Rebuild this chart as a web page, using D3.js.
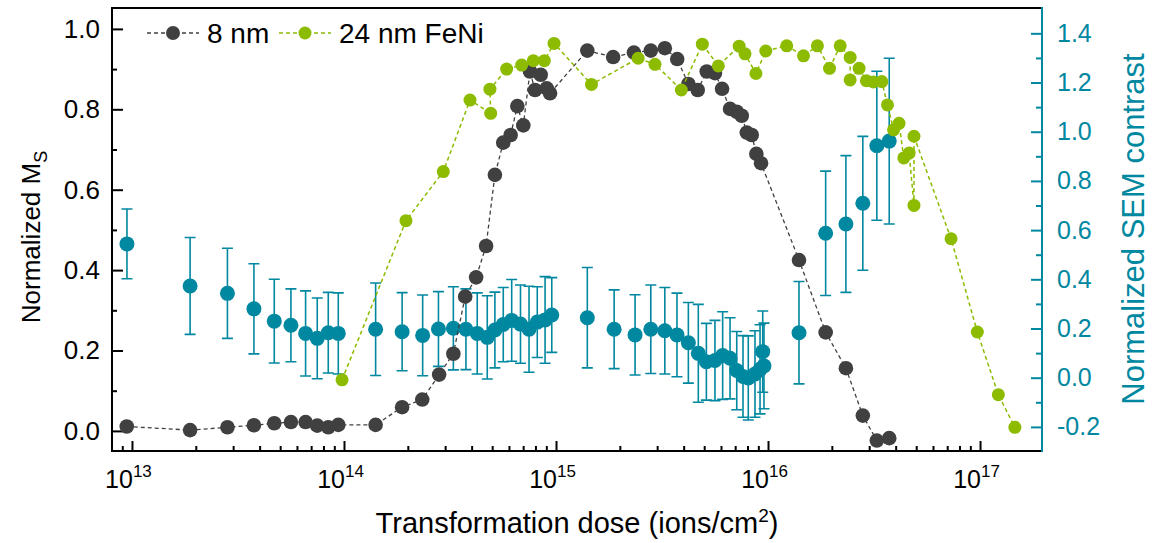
<!DOCTYPE html>
<html>
<head>
<meta charset="utf-8">
<script src="https://cdn.jsdelivr.net/npm/d3@7"></script>
<style>
    body { margin: 0; background: #fff; }
    svg { font-family: "Liberation Sans", Arial, sans-serif; }
</style>
</head>
<body>
<svg id="chart" width="1154" height="543"></svg>
<script>
// 8 nm film, normalized Ms
const dose8 = [9.45e12, 1.88e13, 2.82e13, 3.76e13, 4.69e13, 5.62e13, 6.59e13, 7.48e13, 8.43e13, 9.4e13,
    1.41e14, 1.88e14, 2.34e14, 2.81e14, 3.28e14, 3.73e14, 4.2e14, 4.68e14, 5.15e14, 5.64e14,
    6.11e14, 6.57e14, 7.01e14, 7.54e14, 7.96e14, 8.47e14, 9.04e14, 9.37e14, 1.405e15, 1.86e15,
    2.33e15, 2.8e15, 3.26e15, 3.73e15, 4.21e15, 4.66e15, 5.14e15, 5.62e15, 6.07e15, 6.62e15,
    7.12e15, 7.52e15, 7.94e15, 8.38e15, 8.81e15, 9.27e15, 1.4e16, 1.87e16, 2.33e16, 2.8e16,
    3.26e16, 3.73e16];
const ms8 = [0.011, 0.002, 0.009, 0.014, 0.019, 0.022, 0.022, 0.013, 0.009, 0.015,
    0.015, 0.059, 0.078, 0.140, 0.192, 0.334, 0.382, 0.460, 0.637, 0.717,
    0.736, 0.808, 0.760, 0.894, 0.848, 0.886, 0.852, 0.840, 0.946, 0.930,
    0.941, 0.946, 0.952, 0.925, 0.863, 0.848, 0.894, 0.890, 0.851, 0.801,
    0.794, 0.784, 0.742, 0.736, 0.689, 0.666, 0.425, 0.245, 0.156, 0.038,
    -0.024, -0.018];

// 24 nm FeNi, normalized Ms
const dose24 = [9.79e13, 1.96e14, 2.94e14, 3.93e14, 4.92e14, 4.88e14, 5.85e14, 6.89e14, 7.82e14, 8.81e14,
    9.79e14, 1.47e15, 2.44e15, 2.93e15, 3.9e15, 4.9e15, 5.83e15, 7.31e15, 7.79e15, 8.77e15,
    9.76e15, 1.225e16, 1.47e16, 1.71e16, 1.95e16, 2.19e16, 2.44e16, 2.44e16, 2.69e16, 2.91e16,
    3.14e16, 3.44e16, 3.66e16, 3.91e16, 4.15e16, 4.37e16, 4.63e16, 4.88e16, 4.88e16, 7.3e16,
    9.71e16, 1.22e17, 1.46e17];
const ms24 = [0.127, 0.523, 0.645, 0.823, 0.790, 0.850, 0.900, 0.910, 0.921, 0.921,
    0.964, 0.862, 0.927, 0.912, 0.848, 0.962, 0.908, 0.957, 0.938, 0.889,
    0.945, 0.958, 0.933, 0.958, 0.902, 0.958, 0.929, 0.873, 0.902, 0.871,
    0.868, 0.869, 0.811, 0.749, 0.765, 0.679, 0.691, 0.561, 0.733, 0.478,
    0.246, 0.090, 0.009];

// SEM contrast (right axis) with error bars
const doseSem = [9.47e12, 1.88e13, 2.82e13, 3.76e13, 4.69e13, 5.62e13, 6.59e13, 7.48e13, 8.43e13, 9.4e13,
    1.41e14, 1.88e14, 2.35e14, 2.79e14, 3.28e14, 3.76e14, 4.25e14, 4.74e14, 5.15e14, 5.64e14,
    6.18e14, 6.8e14, 7.46e14, 8.16e14, 8.88e14, 9.55e14, 1.405e15, 1.88e15, 2.36e15, 2.8e15,
    3.26e15, 3.72e15, 4.21e15, 4.69e15, 5.12e15, 5.62e15, 6.11e15, 6.62e15, 7.12e15, 7.62e15,
    8.07e15, 8.68e15, 9.17e15, 9.44e15, 9.57e15, 1.4e16, 1.87e16, 2.33e16, 2.8e16, 3.26e16,
    3.73e16];
const sem = [0.544, 0.373, 0.343, 0.280, 0.230, 0.213, 0.180, 0.160, 0.183, 0.180,
    0.197, 0.187, 0.172, 0.198, 0.201, 0.197, 0.180, 0.164, 0.194, 0.216,
    0.233, 0.218, 0.197, 0.226, 0.235, 0.255, 0.244, 0.197, 0.174, 0.197,
    0.191, 0.174, 0.142, 0.099, 0.065, 0.070, 0.090, 0.079, 0.029, 0.005,
    -0.001, 0.015, 0.034, 0.106, 0.048, 0.183, 0.587, 0.625, 0.709, 0.943,
    0.962];
const semErr = [0.142, 0.197, 0.183, 0.183, 0.170, 0.148, 0.173, 0.164, 0.164, 0.165,
    0.188, 0.159, 0.164, 0.152, 0.169, 0.164, 0.165, 0.169, 0.154, 0.151,
    0.166, 0.159, 0.175, 0.144, 0.176, 0.152, 0.204, 0.160, 0.163, 0.180,
    0.176, 0.170, 0.164, 0.199, 0.156, 0.163, 0.178, 0.165, 0.159, 0.166,
    0.171, 0.176, 0.181, 0.165, 0.174, 0.208, 0.253, 0.278, 0.272, 0.303,
    0.337];

const xMajor = [1e13, 1e14, 1e15, 1e16, 1e17];
const xExp = ["13", "14", "15", "16", "17"];
const leftTicks = [0.0, 0.2, 0.4, 0.6, 0.8, 1.0];
const leftMinor = [0.1, 0.3, 0.5, 0.7, 0.9];
const rightTicks = [-0.2, 0.0, 0.2, 0.4, 0.6, 0.8, 1.0, 1.2, 1.4];
const rightMinor = [-0.1, 0.1, 0.3, 0.5, 0.7, 0.9, 1.1, 1.3];

const dark = "#404040";
const green = "#8cbb00";
const teal = "#0088a0";

const svg = d3.select("#chart");
const box = {left: 112, right: 1042, top: 8, bottom: 451};

const x = d3.scaleLog().domain([8.05e12, 1.96e17]).range([box.left, box.right]);
const yL = d3.scaleLinear().domain([-0.05, 1.052]).range([box.bottom, box.top]);
const yR = d3.scaleLinear().domain([-0.298, 1.503]).range([box.bottom, box.top]);

// minor ticks 2..9 per decade inside the domain
let xMinor = [];
for (let e = 12; e <= 17; e++) {
    for (let k = 2; k <= 9; k++) {
        let v = k * Math.pow(10, e);
        if (v > x.domain()[0] && v < x.domain()[1]) xMinor.push(v);
    }
}

// ---- axes (ticks pointing inward) ----
const gxMin = svg.append("g").attr("transform", `translate(0,${box.bottom})`)
    .call(d3.axisBottom(x).tickValues(xMinor).tickSize(-5).tickSizeOuter(0).tickFormat(() => ""));
const gx = svg.append("g").attr("transform", `translate(0,${box.bottom})`)
    .call(d3.axisBottom(x).tickValues(xMajor).tickSize(-10).tickSizeOuter(0).tickFormat(() => ""));

gx.selectAll(".tick").each(function(d, i) {
    const t = d3.select(this).append("text")
        .attr("y", 37).attr("x", -4)
        .attr("fill", "#000").attr("text-anchor", "middle")
        .style("font-size", "25px");
    t.append("tspan").text("10");
    t.append("tspan").attr("dy", -11).style("font-size", "17px").text(xExp[i]);
});

const gyMin = svg.append("g").attr("transform", `translate(${box.left},0)`)
    .call(d3.axisLeft(yL).tickValues(leftMinor).tickSize(-5).tickSizeOuter(0).tickFormat(() => ""));
const gy = svg.append("g").attr("transform", `translate(${box.left},0)`)
    .call(d3.axisLeft(yL).tickValues(leftTicks).tickSize(-11).tickSizeOuter(0)
        .tickPadding(12).tickFormat(d => d.toFixed(1)));
gy.selectAll("text").style("font-size", "26px").attr("fill", "#000");

const gyrMin = svg.append("g").attr("transform", `translate(${box.right},0)`)
    .call(d3.axisRight(yR).tickValues(rightMinor).tickSize(-6).tickSizeOuter(0).tickFormat(() => ""));
const gyr = svg.append("g").attr("transform", `translate(${box.right},0)`)
    .call(d3.axisRight(yR).tickValues(rightTicks).tickSize(-11).tickSizeOuter(0)
        .tickPadding(15).tickFormat(d => d.toFixed(1)));
gyr.selectAll("text").style("font-size", "25px").attr("fill", teal);

svg.selectAll(".domain").remove();
svg.selectAll(".tick line").attr("stroke-width", 2);
gyrMin.selectAll(".tick line").attr("stroke", teal);
gyr.selectAll(".tick line").attr("stroke", teal);

// frame
svg.append("path")
    .attr("d", `M${box.right},${box.top}H${box.left}V${box.bottom}H${box.right}`)
    .attr("fill", "none").attr("stroke", "#000").attr("stroke-width", 2);
svg.append("line")
    .attr("x1", box.right).attr("x2", box.right).attr("y1", box.top - 1).attr("y2", box.bottom + 1)
    .attr("stroke", teal).attr("stroke-width", 2);

// ---- SEM contrast with error bars ----
const semData = doseSem.map((d, i) => ({dose: d, v: sem[i], e: semErr[i]}));
const bars = svg.append("g").attr("stroke", teal).attr("stroke-width", 1.6);
bars.selectAll(".bar")
    .data(semData)
    .join("path")
    .attr("class", "bar")
    .attr("d", d => {
        const cx = x(d.dose), t = yR(d.v + d.e), b = yR(d.v - d.e);
        return `M${cx},${t}V${b}M${cx - 5.5},${t}H${cx + 5.5}M${cx - 5.5},${b}H${cx + 5.5}`;
    });
svg.append("g").selectAll("circle")
    .data(semData)
    .join("circle")
    .attr("cx", d => x(d.dose))
    .attr("cy", d => yR(d.v))
    .attr("r", 7.5)
    .attr("fill", teal);

// ---- Ms curves ----
function drawSeries(doses, vals, color, r, width) {
    const pts = doses.map((d, i) => [x(d), yL(vals[i])]);
    svg.append("path")
        .attr("d", d3.line()(pts))
        .attr("fill", "none")
        .attr("stroke", color)
        .attr("stroke-width", width)
        .attr("stroke-dasharray", "4,3");
    svg.append("g").selectAll("circle")
        .data(pts)
        .join("circle")
        .attr("cx", p => p[0])
        .attr("cy", p => p[1])
        .attr("r", r)
        .attr("fill", color);
}
drawSeries(dose8, ms8, dark, 7.3, 1.3);
drawSeries(dose24, ms24, green, 6.5, 1.5);

// ---- legend ----
const legend = [
    {label: "8 nm", color: dark, r: 7, x0: 147},
    {label: "24 nm FeNi", color: green, r: 6.5, x0: 279}
];
const lg = svg.append("g");
legend.forEach(l => {
    lg.append("line")
        .attr("x1", l.x0).attr("x2", l.x0 + 52).attr("y1", 33).attr("y2", 33)
        .attr("stroke", l.color).attr("stroke-width", 1.5).attr("stroke-dasharray", "4,3");
    lg.append("circle").attr("cx", l.x0 + 26).attr("cy", 33).attr("r", l.r).attr("fill", l.color);
    lg.append("text").attr("x", l.x0 + 60).attr("y", 43)
        .style("font-size", "28px").attr("fill", "#000").text(l.label);
});

// ---- axis titles ----
const xt = svg.append("text")
    .attr("x", 577).attr("y", 533).attr("text-anchor", "middle")
    .style("font-size", "29px").attr("fill", "#000");
xt.append("tspan").text("Transformation dose (ions/cm");
xt.append("tspan").attr("dy", -11).style("font-size", "19px").text("2");
xt.append("tspan").attr("dy", 11).text(")");

const yt = svg.append("text")
    .attr("transform", "translate(40,237) rotate(-90)")
    .attr("text-anchor", "middle")
    .style("font-size", "26px").attr("fill", "#000");
yt.append("tspan").text("Normalized M");
yt.append("tspan").attr("dy", 7).style("font-size", "18px").text("S");

svg.append("text")
    .attr("transform", "translate(1144,229) rotate(-90)")
    .attr("text-anchor", "middle")
    .style("font-size", "31px").attr("fill", teal)
    .text("Normalized SEM contrast");
</script>
</body>
</html>
